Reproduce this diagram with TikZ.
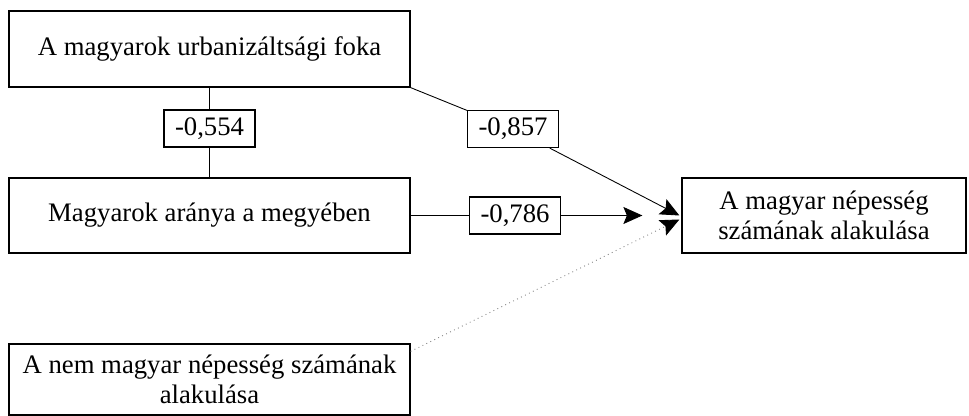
\documentclass[tikz,border=0pt]{standalone}
\usepackage{fontspec}
\setmainfont{Liberation Serif}
\usetikzlibrary{arrows.meta, positioning}

\begin{document}
\begin{tikzpicture}
    % Define styles
    \tikzstyle{factor} = [rectangle, draw, line width=0.7pt, minimum width=8.02cm, minimum height=1.5cm, align=center, font=\fontsize{15.2}{17}\selectfont]
    \tikzstyle{coef} = [rectangle, draw, line width=0.7pt, fill=white, minimum width=1.82cm, minimum height=0.74cm, inner sep=1pt, font=\fontsize{15.2}{17}\selectfont]
    \tikzstyle{line} = [draw, line width=0.5pt]
    \tikzstyle{effect} = [line, -{Stealth[length=0.38cm, width=0.34cm, inset=0.07cm, color=black]}]

    \useasboundingbox (0,0) rectangle (19.38,8.32);

    % Explanatory variables
    \node[factor, minimum height=1.52cm] (urban) at (4.19,7.34) {A magyarok urbanizáltsági foka};
    \node[factor] (ratio) at (4.19,4.01) {Magyarok aránya a megyében};
    \node[factor, minimum height=1.42cm] (other) at (4.19,0.73) {A nem magyar népesség számának\\alakulása};

    % Dependent variable
    \node[factor, minimum width=5.68cm] (target) at (16.48,4.01) {A magyar népesség\\számának alakulása};

    % Coefficients
    \node[coef] (c554) at (4.19,5.75) {-0,554};
    \node[coef] (c857) at (10.26,5.74) {-0,857};
    \node[coef] (c786) at (10.3,4.01) {-0,786};

    % Free ends
    \coordinate (stop786) at ([xshift=-0.78cm]target.west);
    \coordinate (start) at ([yshift=-0.16cm]other.north east);
    \coordinate (end) at ([xshift=-0.04cm, yshift=-0.08cm]target.west);

    % Correlation between the two
    \draw[line] (urban.south) -- (c554.north);
    \draw[line] (c554.south) -- (ratio.north);

    % Effects on the dependent variable
    \draw[line] (urban.south east) -- (c857);
    \draw[effect] (c857) -- ([xshift=-0.04cm]target.west);
    \draw[line] (ratio.east) -- (c786);
    \draw[effect] (c786) -- (stop786);
    \draw[effect, gray, dotted] (start) -- (end);

\end{tikzpicture}
\end{document}
